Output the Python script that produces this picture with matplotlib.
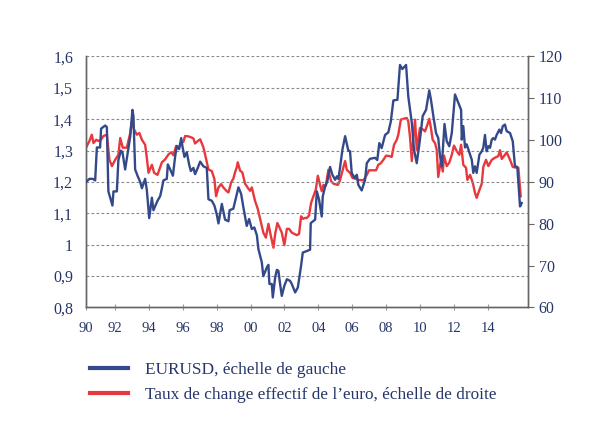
import matplotlib
matplotlib.use('Agg')
import matplotlib.pyplot as plt
from matplotlib.lines import Line2D

# EURUSD (left axis)
usd_dates = [1990.28, 1990.48, 1990.68, 1990.82, 1990.92, 1991.11, 1991.17, 1991.41, 1991.51, 1991.60,
             1991.84, 1991.90, 1992.10, 1992.19, 1992.34, 1992.43, 1992.59, 1992.79, 1992.89, 1993.02,
             1993.08, 1993.18, 1993.32, 1993.48, 1993.58, 1993.77, 1993.87, 1994.01, 1994.17, 1994.26,
             1994.50, 1994.66, 1994.76, 1994.85, 1995.05, 1995.11, 1995.25, 1995.41, 1995.54, 1995.64,
             1995.78, 1995.90, 1995.97, 1996.09, 1996.23, 1996.37, 1996.47, 1996.62, 1996.72, 1996.88,
             1997.02, 1997.21, 1997.41, 1997.51, 1997.71, 1997.86, 1998.00, 1998.10, 1998.30, 1998.49,
             1998.69, 1998.76, 1998.98, 1999.28, 1999.44, 1999.57, 1999.77, 1999.91, 2000.07, 2000.22,
             2000.37, 2000.46, 2000.66, 2000.75, 2000.96, 2001.05, 2001.11, 2001.25, 2001.31, 2001.45,
             2001.55, 2001.64, 2001.74, 2001.84, 2001.99, 2002.14, 2002.33, 2002.43, 2002.63, 2002.79,
             2002.98, 2003.08, 2003.22, 2003.51, 2003.55, 2003.81, 2003.91, 2004.04, 2004.20, 2004.26,
             2004.40, 2004.53, 2004.69, 2004.83, 2004.99, 2005.09, 2005.18, 2005.28, 2005.42, 2005.58,
             2005.77, 2005.87, 2005.97, 2006.13, 2006.27, 2006.36, 2006.56, 2006.76, 2006.86, 2007.05,
             2007.35, 2007.48, 2007.60, 2007.74, 2007.94, 2008.13, 2008.28, 2008.43, 2008.67, 2008.82,
             2008.96, 2009.06, 2009.18, 2009.31, 2009.52, 2009.65, 2009.81, 2010.00, 2010.16, 2010.36,
             2010.55, 2010.65, 2010.79, 2010.95, 2011.08, 2011.18, 2011.29, 2011.45, 2011.58, 2011.73,
             2011.88, 2012.07, 2012.27, 2012.43, 2012.47, 2012.56, 2012.66, 2012.76, 2012.96, 2013.06,
             2013.15, 2013.25, 2013.35, 2013.51, 2013.65, 2013.74, 2013.84, 2013.94, 2014.04, 2014.14,
             2014.24, 2014.33, 2014.43, 2014.53, 2014.69, 2014.79, 2014.89, 2015.02, 2015.12, 2015.32,
             2015.48, 2015.61, 2015.75, 2015.91, 2016.01]
eurusd = [1.200, 1.210, 1.210, 1.205, 1.310, 1.310, 1.370, 1.380, 1.375, 1.170,
          1.125, 1.170, 1.170, 1.270, 1.300, 1.295, 1.240, 1.310, 1.345, 1.430,
          1.410, 1.240, 1.220, 1.200, 1.180, 1.210, 1.175, 1.085, 1.150, 1.110,
          1.140, 1.155, 1.180, 1.205, 1.210, 1.256, 1.240, 1.220, 1.280, 1.315,
          1.305, 1.340, 1.315, 1.280, 1.295, 1.255, 1.235, 1.245, 1.225, 1.245,
          1.265, 1.250, 1.245, 1.145, 1.140, 1.125, 1.097, 1.068, 1.130, 1.080,
          1.075, 1.110, 1.115, 1.183, 1.162, 1.120, 1.060, 1.082, 1.050, 1.055,
          1.030, 0.986, 0.944, 0.900, 0.928, 0.936, 0.875, 0.875, 0.832, 0.896,
          0.920, 0.917, 0.875, 0.837, 0.869, 0.890, 0.885, 0.875, 0.848, 0.864,
          0.933, 0.975, 0.978, 0.984, 1.069, 1.080, 1.170, 1.144, 1.090, 1.154,
          1.186, 1.202, 1.248, 1.223, 1.207, 1.218, 1.210, 1.245, 1.303, 1.346,
          1.300, 1.298, 1.229, 1.213, 1.223, 1.191, 1.173, 1.207, 1.260, 1.274,
          1.277, 1.270, 1.324, 1.308, 1.350, 1.358, 1.393, 1.460, 1.462, 1.573,
          1.560, 1.566, 1.573, 1.473, 1.388, 1.303, 1.260, 1.335, 1.410, 1.430,
          1.492, 1.462, 1.410, 1.356, 1.340, 1.285, 1.250, 1.385, 1.330, 1.314,
          1.356, 1.479, 1.452, 1.430, 1.335, 1.378, 1.310, 1.320, 1.287, 1.271,
          1.229, 1.250, 1.229, 1.287, 1.298, 1.309, 1.350, 1.298, 1.314, 1.309,
          1.335, 1.340, 1.335, 1.350, 1.367, 1.356, 1.378, 1.383, 1.362, 1.356,
          1.330, 1.250, 1.248, 1.122, 1.133]

# taux de change effectif de l'euro (right axis)
eer_dates = [1990.28, 1990.48, 1990.62, 1990.72, 1990.88, 1991.01, 1991.16, 1991.31, 1991.51, 1991.66,
             1991.81, 1992.00, 1992.19, 1992.30, 1992.45, 1992.69, 1992.89, 1992.99, 1993.12, 1993.28,
             1993.43, 1993.58, 1993.77, 1993.87, 1993.97, 1994.17, 1994.30, 1994.50, 1994.66, 1994.76,
             1994.95, 1995.15, 1995.31, 1995.44, 1995.60, 1995.74, 1995.90, 1996.03, 1996.13, 1996.33,
             1996.53, 1996.62, 1996.72, 1996.88, 1997.02, 1997.21, 1997.31, 1997.51, 1997.71, 1997.86,
             1997.96, 1998.10, 1998.26, 1998.39, 1998.59, 1998.69, 1998.85, 1998.98, 1999.08, 1999.18,
             1999.24, 1999.38, 1999.51, 1999.67, 1999.87, 1999.97, 2000.07, 2000.26, 2000.42, 2000.56,
             2000.75, 2000.90, 2001.05, 2001.19, 2001.35, 2001.45, 2001.58, 2001.74, 2001.84, 2001.99,
             2002.14, 2002.27, 2002.43, 2002.58, 2002.73, 2002.86, 2002.98, 2003.08, 2003.22, 2003.32,
             2003.45, 2003.57, 2003.71, 2003.85, 2003.97, 2004.10, 2004.20, 2004.30, 2004.44, 2004.59,
             2004.75, 2004.89, 2005.15, 2005.28, 2005.42, 2005.58, 2005.68, 2005.87, 2006.01, 2006.17,
             2006.36, 2006.66, 2006.86, 2006.99, 2007.41, 2007.54, 2007.69, 2007.84, 2008.00, 2008.19,
             2008.33, 2008.47, 2008.63, 2008.72, 2008.87, 2009.02, 2009.22, 2009.31, 2009.41, 2009.52,
             2009.61, 2009.71, 2009.81, 2009.91, 2010.00, 2010.20, 2010.30, 2010.44, 2010.55, 2010.65,
             2010.75, 2010.89, 2010.99, 2011.08, 2011.23, 2011.35, 2011.42, 2011.58, 2011.73, 2011.88,
             2012.01, 2012.17, 2012.33, 2012.43, 2012.56, 2012.72, 2012.80, 2012.96, 2013.12, 2013.25,
             2013.35, 2013.45, 2013.65, 2013.74, 2013.90, 2014.04, 2014.24, 2014.43, 2014.63, 2014.73,
             2014.83, 2015.02, 2015.12, 2015.32, 2015.48, 2015.71, 2015.81, 2015.95]
eer = [98.2, 99.8, 101.3, 99.3, 100.1, 99.8, 100.1, 101.0, 101.3, 95.3,
       93.8, 95.3, 96.5, 100.5, 98.2, 98.2, 101.7, 104.6, 102.5, 101.3,
       101.7, 100.1, 98.9, 95.8, 92.2, 94.1, 92.2, 91.7, 93.5, 94.7,
       95.4, 96.6, 97.1, 96.4, 98.6, 98.0, 99.5, 99.6, 101.0, 100.9,
       100.6, 100.4, 99.2, 99.8, 100.2, 98.3, 96.6, 93.0, 92.6, 90.7,
       86.6, 88.7, 89.5, 88.7, 87.8, 87.5, 89.9, 90.8, 92.3, 93.5,
       94.7, 92.7, 92.3, 89.6, 88.4, 87.9, 88.7, 85.5, 83.6, 81.2,
       77.9, 76.7, 80.0, 77.2, 74.3, 77.6, 80.2, 78.8, 77.9, 74.9,
       78.8, 78.8, 77.9, 77.6, 77.3, 77.6, 81.8, 81.2, 81.4, 81.4,
       82.0, 85.0, 86.6, 88.2, 91.5, 89.3, 87.8, 89.3, 89.1, 92.9,
       90.2, 89.6, 89.3, 90.4, 92.6, 95.0, 92.9, 92.2, 91.0, 90.8,
       90.5, 90.4, 91.7, 92.8, 92.8, 94.1, 94.5, 95.3, 96.3, 96.2,
       96.0, 98.9, 100.1, 101.3, 104.9, 105.1, 105.3, 104.5, 100.9, 95.0,
       100.7, 104.9, 97.7, 100.5, 102.9, 102.5, 102.1, 103.7, 105.1, 102.9,
       100.1, 99.3, 97.7, 91.2, 95.0, 92.5, 96.3, 93.8, 94.6, 96.5,
       98.7, 97.4, 96.5, 98.9, 94.1, 93.4, 90.5, 91.7, 89.8, 87.4,
       86.2, 87.4, 89.6, 93.6, 95.3, 93.8, 95.3, 95.8, 96.2, 97.6,
       95.5, 96.5, 97.1, 95.3, 93.6, 93.4, 93.4, 86.6]

left_ticks = [0.8, 0.9, 1.0, 1.1, 1.2, 1.3, 1.4, 1.5, 1.6]
left_labels = ['0,8', '0,9', '1', '1,1', '1,2', '1,3', '1,4', '1,5', '1,6']
right_ticks = [60, 70, 80, 90, 100, 110, 120]
year_ticks = [1990.25, 1992, 1994, 1996, 1998, 2000, 2002, 2004, 2006, 2008, 2010, 2012, 2014]
year_labels = ['90', '92', '94', '96', '98', '00', '02', '04', '06', '08', '10', '12', '14']

blue = '#34498a'
red = '#e8383d'
txt = '#27366a'
axis_col = '#666666'

plt.rcParams['font.family'] = ['Liberation Serif', 'DejaVu Serif']

fig = plt.figure(figsize=(6.10, 4.42), dpi=100)
ax = fig.add_axes([0.1402, 0.3043, 0.7248, 0.5679])
ax2 = ax.twinx()

ax.set_xlim(1990.25, 2016.36)
ax.set_ylim(0.8, 1.6)
ax2.set_ylim(60, 120)

for y in left_ticks[1:]:
    ax.axhline(y, color='#8a8a8a', lw=0.8, ls=(0, (2.5, 2)), zorder=0)

ax.plot(usd_dates, eurusd, color=blue, lw=1.7, zorder=3)
ax2.plot(eer_dates, eer, color=red, lw=1.7, zorder=2)
ax.set_zorder(ax2.get_zorder() + 1)
ax.patch.set_visible(False)

ax.set_yticks(left_ticks)
ax.set_yticklabels(left_labels)
ax2.set_yticks(right_ticks)
ax.set_xticks(year_ticks)
ax.set_xticklabels(year_labels)

for a in (ax, ax2):
    a.spines['top'].set_visible(False)
    for s in ('left', 'right', 'bottom'):
        a.spines[s].set_color(axis_col)
        a.spines[s].set_linewidth(1.0)

ax.tick_params(axis='y', length=0, pad=9, labelsize=11.5, labelcolor=txt)
ax.tick_params(axis='x', direction='inout', length=5, color='#999999', pad=8,
               labelsize=10.5, labelcolor=txt)
ax2.tick_params(axis='y', direction='out', length=4, color=axis_col, pad=4,
                labelsize=11.5, labelcolor=txt)

handles = [Line2D([], [], color=blue, lw=3),
           Line2D([], [], color=red, lw=3)]
labels = ['EURUSD, échelle de gauche',
          'Taux de change effectif de l\u2019euro, échelle de droite']
fig.legend(handles, labels, loc='upper left', bbox_to_anchor=(0.136, 0.197),
           frameon=False, fontsize=12.4, labelcolor=txt, handlelength=2.2,
           handletextpad=1.0, labelspacing=0.5, borderaxespad=0)

fig.savefig('out.png', dpi=100, facecolor='white')
